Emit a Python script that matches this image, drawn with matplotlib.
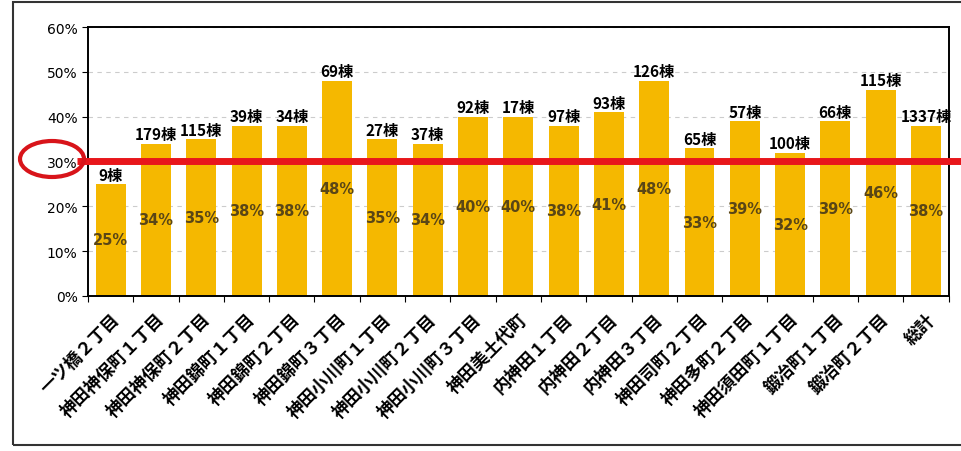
import matplotlib
matplotlib.use("Agg")
import numpy as np
from matplotlib import pyplot as plt
from matplotlib.patches import Ellipse, Rectangle

plt.rcParams['font.family'] = ['Noto Sans CJK JP', 'DejaVu Sans']

towns = ['一ツ橋２丁目', '神田神保町１丁目', '神田神保町２丁目', '神田錦町１丁目',
         '神田錦町２丁目', '神田錦町３丁目', '神田小川町１丁目', '神田小川町２丁目',
         '神田小川町３丁目', '神田美土代町', '内神田１丁目', '内神田２丁目',
         '内神田３丁目', '神田司町２丁目', '神田多町２丁目', '神田須田町１丁目',
         '鍛冶町１丁目', '鍛冶町２丁目', '総計']
counts = [9, 179, 115, 39, 34, 69, 27, 37, 92, 17, 97, 93, 126, 65, 57, 100, 66, 115, 1337]
rates = [25, 34, 35, 38, 38, 48, 35, 34, 40, 40, 38, 41, 48, 33, 39, 32, 39, 46, 38]
yticks = [0, 10, 20, 30, 40, 50, 60]
threshold = 30

fig = plt.figure(figsize=(9.61, 4.52), dpi=100)
ax = fig.add_axes([0.0916, 0.343, 0.8955, 0.595])

x = np.arange(len(towns))
vals = np.array(rates) / 100
ax.bar(x, vals, width=0.66, color='#F5B800', zorder=2)

for xi, v, c, r in zip(x, vals, counts, rates):
    ax.text(xi, v + 0.003, f'{c}棟', ha='center', va='bottom',
            fontsize=11, fontweight='bold', color='black', zorder=4)
    ax.text(xi, v / 2, f'{r}%', ha='center', va='center',
            fontsize=10.5, fontweight='bold', color='#5a4616',
            family=['DejaVu Sans'], zorder=4)

ax.set_xlim(-0.5, len(towns) - 0.5)
ax.set_ylim(0, 0.6)
ax.set_yticks(np.array(yticks) / 100)
ax.set_yticklabels([f'{t}%' for t in yticks], family=['DejaVu Sans'], fontsize=10)
ax.yaxis.grid(True, color='#cccccc', linestyle=(0, (4, 4)), linewidth=0.8, zorder=0)

# category boundary ticks, labels at the centers
ax.set_xticks(np.arange(len(towns) + 1) - 0.5)
ax.set_xticklabels([])
ax.set_xticks(x, minor=True)
ax.set_xticklabels(towns, minor=True, rotation=45, ha='right',
                   rotation_mode='anchor', fontsize=12.5, fontweight='bold')
ax.tick_params(axis='x', which='minor', length=0, pad=10)
ax.tick_params(axis='x', which='major', direction='out', length=4)
ax.tick_params(axis='y', direction='out', length=4)
for s in ax.spines.values():
    s.set_linewidth(1.4)

# red 30% line, across the whole picture
ax.plot([-0.75, len(towns)], [threshold / 100, threshold / 100],
        color='#e8161b', linewidth=5, clip_on=False, zorder=5, solid_capstyle='butt')

# red circle round the 30% tick label
fig.patches.append(Ellipse((52 / 961, 1 - 160 / 452), 64 / 961, 36 / 452,
                           transform=fig.transFigure, fill=False,
                           edgecolor='#d8141a', linewidth=3))

# outer frame of the chart
fig.patches.append(Rectangle((13 / 961, 6 / 452), 1.0, 443 / 452,
                             transform=fig.transFigure, fill=False,
                             edgecolor='#333333', linewidth=1.5))

fig.savefig('out.png', dpi=100)
